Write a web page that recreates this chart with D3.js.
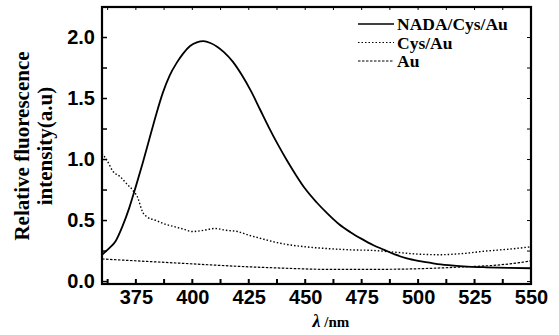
<!DOCTYPE html>
<html>
<head>
<meta charset="utf-8">
<script src="https://cdn.jsdelivr.net/npm/d3@7"></script>
<style>
  html, body { margin: 0; padding: 0; background: #fff; }
  svg { display: block; font-family: "Liberation Serif", "Times New Roman", serif; font-weight: bold; }
</style>
</head>
<body>
<div id="chart"></div>
<script>
// wavelength (nm) / relative fluorescence intensity
const nadaX = [360, 363, 366, 369, 372, 375, 378, 381, 384, 387, 390, 393, 396, 399, 402, 405, 408, 411, 414, 418, 422, 426, 430, 434, 438, 442, 446, 450, 455, 460, 465, 470, 475, 480, 485, 490, 495, 500, 505, 510, 520, 530, 540, 550];
const nadaY = [0.22, 0.27, 0.33, 0.45, 0.60, 0.78, 0.97, 1.17, 1.37, 1.55, 1.69, 1.79, 1.87, 1.93, 1.96, 1.97, 1.955, 1.925, 1.88, 1.80, 1.69, 1.56, 1.41, 1.26, 1.12, 0.99, 0.87, 0.76, 0.65, 0.555, 0.47, 0.405, 0.35, 0.30, 0.26, 0.22, 0.19, 0.17, 0.155, 0.14, 0.125, 0.117, 0.112, 0.109];

const cysX = [360, 362, 365, 368, 371, 374, 376, 377, 378, 380, 384, 388, 392, 396, 400, 405, 410, 415, 420, 425, 430, 435, 440, 450, 460, 470, 480, 490, 500, 510, 520, 530, 540, 550];
const cysY = [1.05, 1.0, 0.90, 0.86, 0.80, 0.74, 0.68, 0.62, 0.57, 0.53, 0.50, 0.47, 0.45, 0.43, 0.41, 0.42, 0.435, 0.42, 0.41, 0.38, 0.355, 0.33, 0.31, 0.285, 0.27, 0.26, 0.255, 0.24, 0.225, 0.22, 0.23, 0.25, 0.265, 0.285];

const auX = [360, 380, 400, 420, 440, 460, 480, 500, 520, 535, 545, 550];
const auY = [0.185, 0.165, 0.145, 0.125, 0.11, 0.10, 0.10, 0.105, 0.12, 0.135, 0.155, 0.17];

const seriesNames = ['NADA/Cys/Au', 'Cys/Au', 'Au'];
const xTicks = [375, 400, 425, 450, 475, 500, 525, 550];
const yTicks = [0.0, 0.5, 1.0, 1.5, 2.0];

const W = 559, H = 335;
const margin = { top: 7, right: 28, bottom: 51, left: 102 };
const width = W - margin.left - margin.right;
const height = H - margin.top - margin.bottom;

const svg = d3.select('#chart').append('svg')
    .attr('width', W)
    .attr('height', H);

const g = svg.append('g')
    .attr('transform', `translate(${margin.left},${margin.top})`);

const x = d3.scaleLinear().domain([360, 550]).range([0, width]);
const y = d3.scaleLinear().domain([-0.02, 2.25]).range([height, 0]);

// minor ticks every 12.5 nm / 0.25
const xMinor = d3.range(362.5, 550, 12.5);
const yMinor = d3.range(0, 2.26, 0.25);

// bottom axis, ticks pointing inward
const xAxis = g.append('g')
    .attr('transform', `translate(0,${height})`)
    .call(d3.axisBottom(x).tickValues(xTicks).tickFormat(d3.format('d')).tickSize(0).tickPadding(6));
xAxis.select('.domain').remove();
xAxis.selectAll('text').attr('font-size', 20).attr('fill', '#000');

g.append('g').selectAll('line')
    .data(xMinor)
    .enter().append('line')
    .attr('x1', d => x(d)).attr('x2', d => x(d))
    .attr('y1', height).attr('y2', height - 5)
    .attr('stroke', '#000').attr('stroke-width', 2);

// left axis
const yAxis = g.append('g')
    .call(d3.axisLeft(y).tickValues(yTicks).tickFormat(d3.format('.1f')).tickSize(0).tickPadding(7));
yAxis.select('.domain').remove();
yAxis.selectAll('text').attr('font-size', 20).attr('fill', '#000');

g.append('g').selectAll('line')
    .data(yMinor)
    .enter().append('line')
    .attr('x1', 0).attr('x2', 5)
    .attr('y1', d => y(d)).attr('y2', d => y(d))
    .attr('stroke', '#000').attr('stroke-width', 1.5);

// right side ticks
g.append('g').selectAll('line')
    .data(yMinor)
    .enter().append('line')
    .attr('x1', width).attr('x2', width - 4)
    .attr('y1', d => y(d)).attr('y2', d => y(d))
    .attr('stroke', '#000').attr('stroke-width', 1);

// top ticks
g.append('g').selectAll('line')
    .data(xMinor)
    .enter().append('line')
    .attr('x1', d => x(d)).attr('x2', d => x(d))
    .attr('y1', 0).attr('y2', 3)
    .attr('stroke', '#000').attr('stroke-width', 1);

// frame
g.append('rect')
    .attr('width', width)
    .attr('height', height)
    .attr('fill', 'none')
    .attr('stroke', '#000')
    .attr('stroke-width', 2.2);

// lines
const line = d3.line()
    .x(d => x(d[0]))
    .y(d => y(d[1]))
    .curve(d3.curveMonotoneX);

const styles = [
    { dash: null, width: 1.8 },
    { dash: '1.5,2', width: 1.4 },
    { dash: '2.5,1.5', width: 1.2 }
];

const series = [
    d3.zip(nadaX, nadaY),
    d3.zip(cysX, cysY),
    d3.zip(auX, auY)
];

g.selectAll('.curve')
    .data(series)
    .enter().append('path')
    .attr('class', 'curve')
    .attr('d', line)
    .attr('fill', 'none')
    .attr('stroke', '#000')
    .attr('stroke-width', (d, i) => styles[i].width)
    .attr('stroke-dasharray', (d, i) => styles[i].dash);

// legend
const legend = svg.append('g')
    .attr('transform', 'translate(358,24)');

const items = legend.selectAll('g')
    .data(seriesNames)
    .enter().append('g')
    .attr('transform', (d, i) => `translate(0,${i * 18.5})`);

items.append('line')
    .attr('x1', 0).attr('x2', 36)
    .attr('y1', 0).attr('y2', 0)
    .attr('stroke', '#000')
    .attr('stroke-width', (d, i) => i === 0 ? 1.5 : 1)
    .attr('stroke-dasharray', (d, i) => styles[i].dash);

items.append('text')
    .attr('x', 39)
    .attr('y', 6)
    .attr('font-size', 17.5)
    .text(d => d);

// y label
const yLabel = svg.append('text')
    .attr('transform', 'translate(29,146) rotate(-90)')
    .attr('text-anchor', 'middle')
    .attr('font-size', 21);
yLabel.append('tspan').attr('x', 0).attr('dy', 0).text('Relative fluorescence');
yLabel.append('tspan').attr('x', 0).attr('dy', 23).text('intensity(a.u)');

// x label
const xLabel = svg.append('text')
    .attr('x', 331)
    .attr('y', 327)
    .attr('text-anchor', 'middle')
    .attr('font-size', 18);
xLabel.append('tspan').attr('font-style', 'italic').text('λ');
xLabel.append('tspan').attr('font-size', 15).text(' /nm');
</script>
</body>
</html>
